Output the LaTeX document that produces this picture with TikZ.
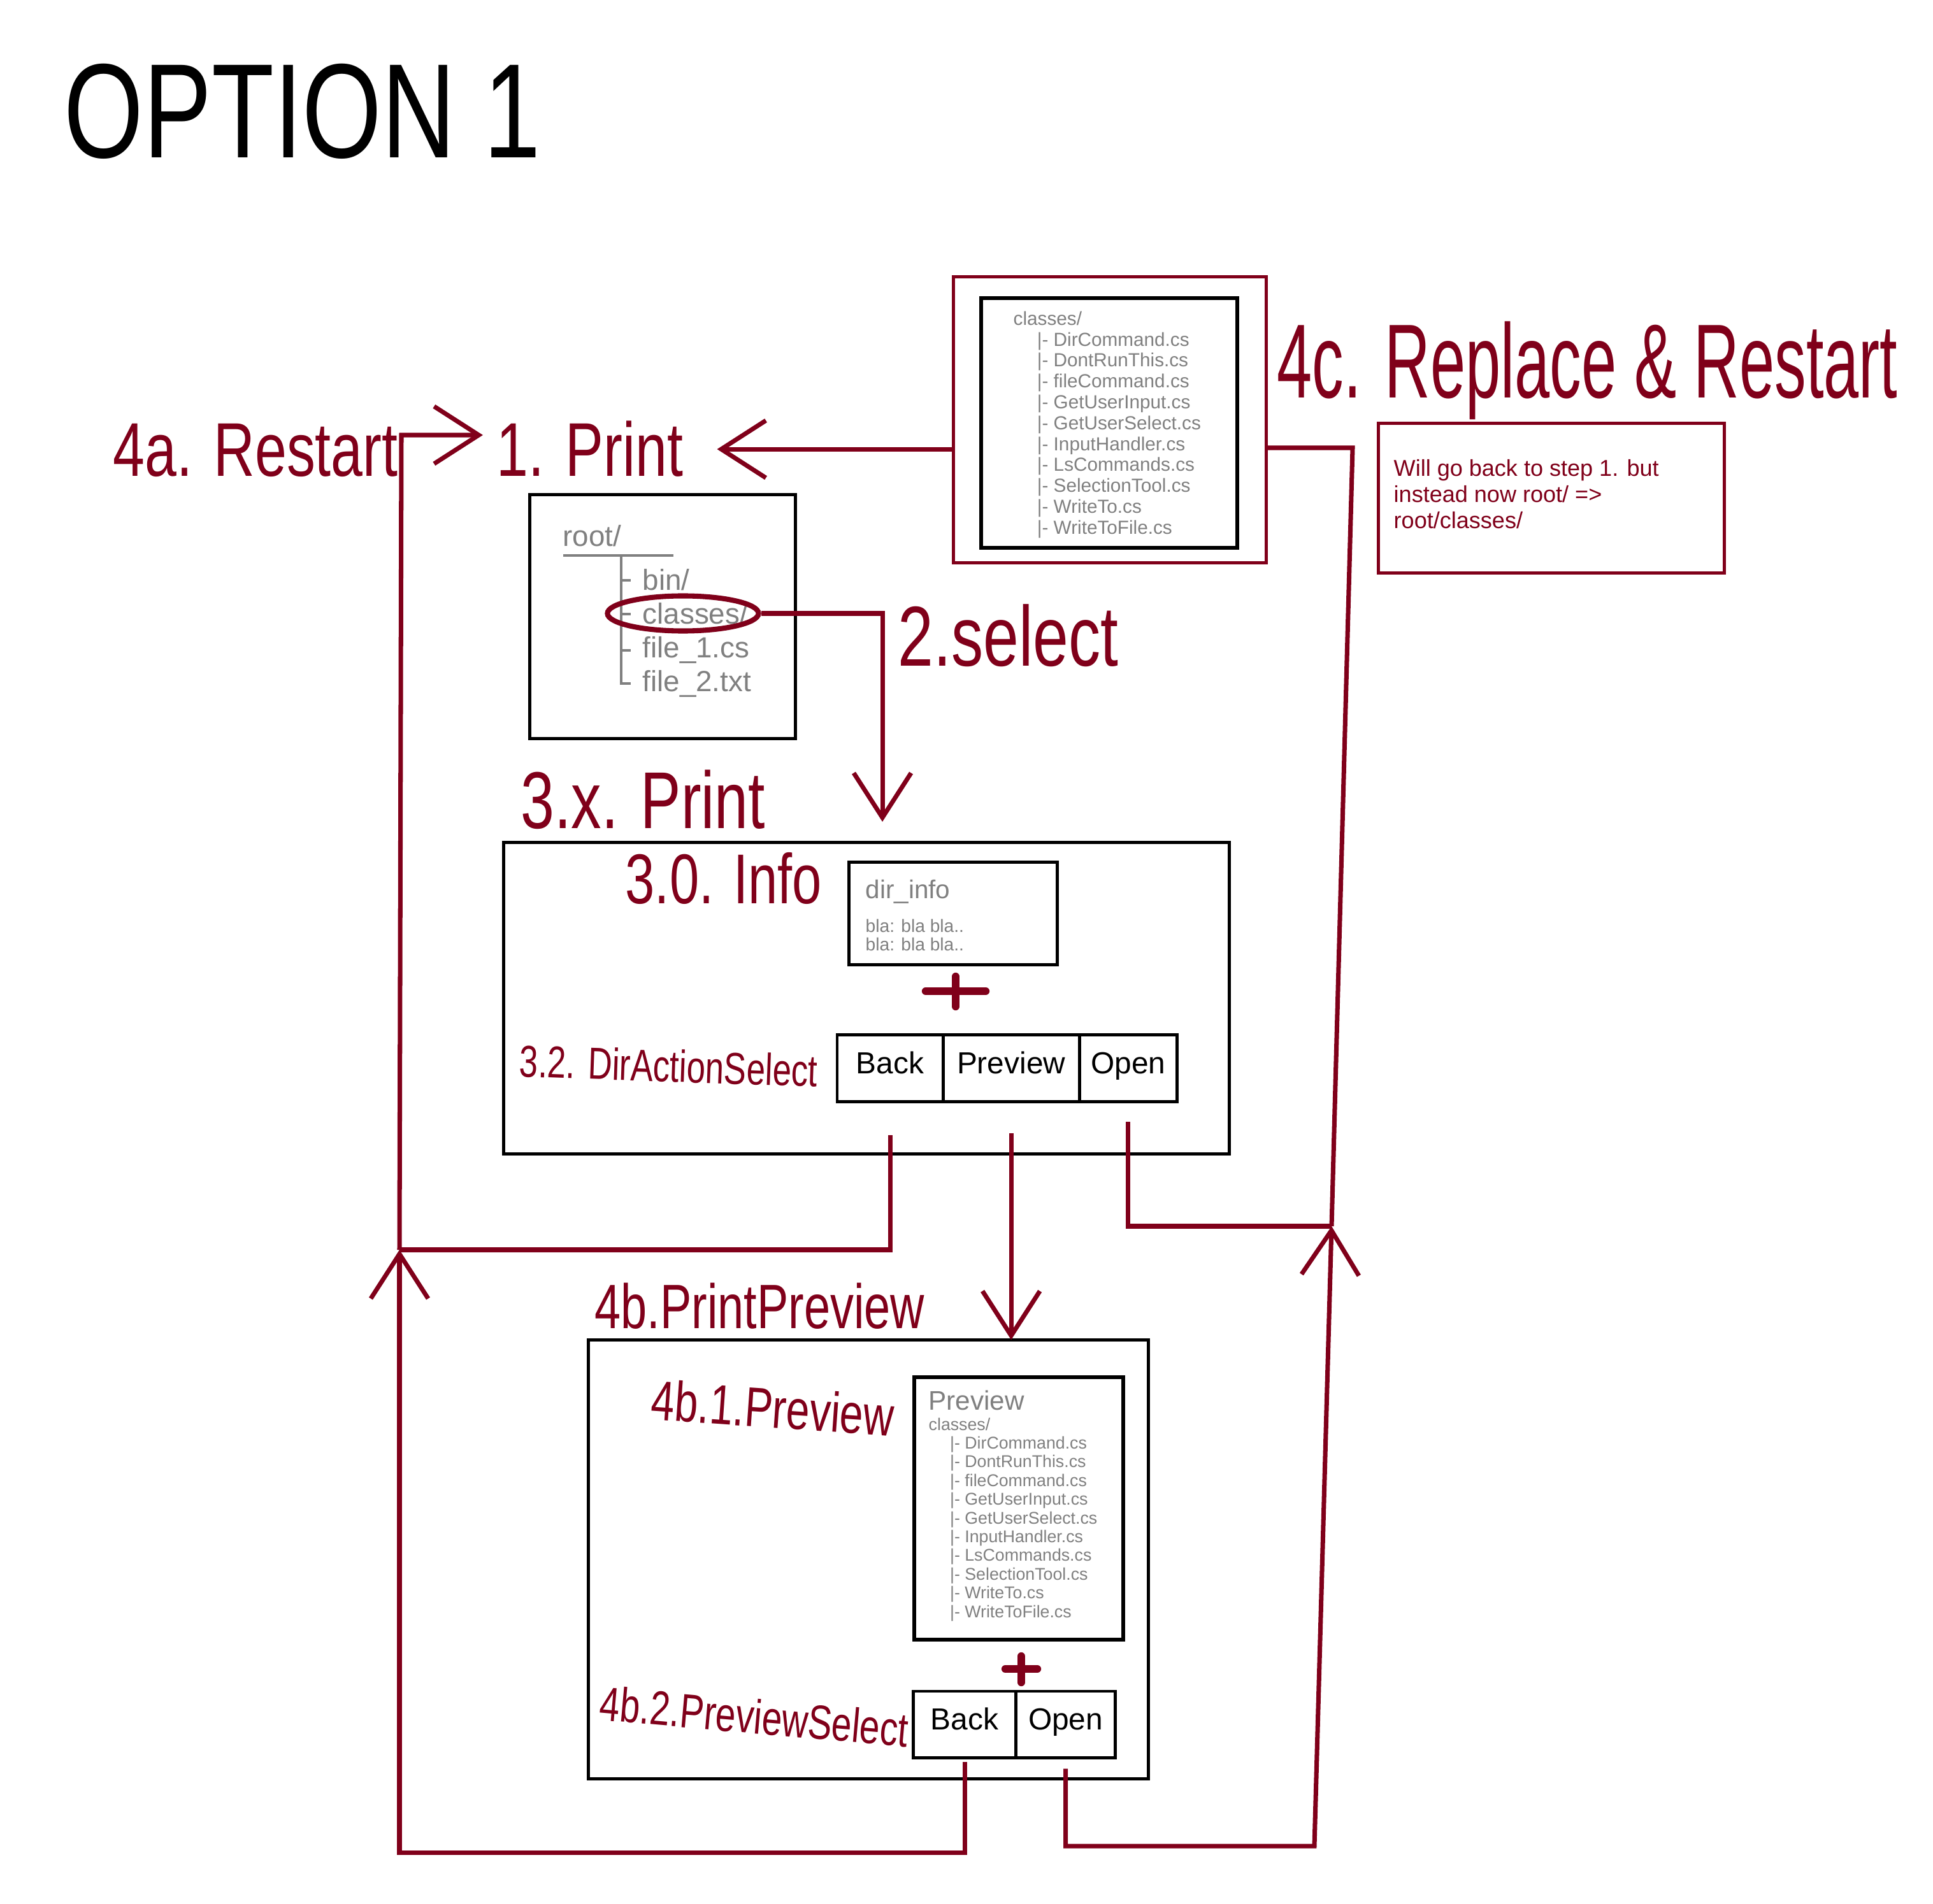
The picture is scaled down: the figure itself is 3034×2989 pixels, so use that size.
\documentclass[tikz,border=0pt]{standalone}
\usepackage{fontspec}
\setmainfont{Liberation Sans}
\newfontfamily\handfont[FakeStretch=0.75]{Liberation Sans}
\newfontfamily\narrowhand[FakeStretch=0.6]{Liberation Sans}
\newfontfamily\titlefont[FakeStretch=0.76]{Liberation Sans}
\usepackage{tikz}
\usetikzlibrary{arrows.meta, positioning, shapes.geometric}
\usepackage{xcolor}
\definecolor{wine}{RGB}{128,0,26}
\definecolor{treegray}{RGB}{128,128,128}
\newcommand\fileitem{\hspace*{1.25em}|- }

\begin{document}
\begin{tikzpicture}[
x=0.01cm, y=-0.01cm,
box/.style={draw, rectangle, line width=1.4pt, inner sep=0pt, outer sep=0pt},
redbox/.style={box, draw=wine},
btn/.style={box, minimum height=1.05cm, text height=0.75em, text depth=0.25em, font=\fontsize{13.6pt}{15pt}\selectfont},
plain/.style={anchor=base west, inner sep=0pt},
listtext/.style={text=treegray, align=left, inner sep=0pt, anchor=north west},
hand/.style={text=wine, font=\handfont\fontsize{#1}{#1}\selectfont, inner sep=0pt, anchor=base west},
link/.style={draw=wine, line width=2pt},
arrow/.style={link, -{Straight Barb[length=7mm, width=9mm]}}
]
\path[use as bounding box, fill=white] (0,0) rectangle (3034,2989);

\node[plain, font=\titlefont\fontsize{60pt}{60pt}\selectfont] (title) at (100,248) {OPTION 1};

% root tree
\node[box, minimum width=4.16cm, minimum height=3.83cm] (rootbox) at (1040,968) {};
\node[plain, text=treegray, font=\fontsize{13pt}{15pt}\selectfont] (rootname) at (883,858) {root/};
\node[plain, text=treegray, font=\fontsize{13pt}{15pt}\selectfont] (itembin) at (1008,927) {bin/};
\node[plain, text=treegray, font=\fontsize{13pt}{15pt}\selectfont] (itemclasses) at (1008,980) {classes/};
\node[plain, text=treegray, font=\fontsize{13pt}{15pt}\selectfont] (itemfileone) at (1008,1033) {file\_1.cs};
\node[plain, text=treegray, font=\fontsize{13pt}{15pt}\selectfont] (itemfiletwo) at (1008,1085) {file\_2.txt};
\coordinate (treetop) at (975,872);
\draw[treegray, line width=1.2pt] (884,872) -- (1057,872);
\draw[treegray, line width=1.2pt] (treetop) -- (treetop |- itemfiletwo.west) -- ++(15,0);
\foreach \n in {itembin, itemclasses, itemfileone}
  \draw[treegray, line width=1.2pt] (treetop |- \n.west) -- ++(15,0);
\node[ellipse, draw=wine, line width=2.3pt, minimum width=2.37cm, minimum height=0.55cm, inner sep=0pt] (selring) at (1072,963) {};

% classes listing
\node[redbox, minimum width=4.90cm, minimum height=4.48cm] (classesbox) at (1742,659) {};
\node[box, line width=1.7pt, minimum width=4.02cm, minimum height=3.92cm] (classeslist) at (1741,664) {};
\node[listtext, font=\fontsize{8.45pt}{9.33pt}\selectfont] (classestxt) at (1590,488) {classes/\\
\fileitem DirCommand.cs\\ \fileitem DontRunThis.cs\\ \fileitem fileCommand.cs\\
\fileitem GetUserInput.cs\\ \fileitem GetUserSelect.cs\\ \fileitem InputHandler.cs\\
\fileitem LsCommands.cs\\ \fileitem SelectionTool.cs\\ \fileitem WriteTo.cs\\ \fileitem WriteToFile.cs};

\node[redbox, minimum width=5.43cm, minimum height=2.34cm] (notebox) at (2435,782) {};
\node[listtext, text=wine, font=\fontsize{10.25pt}{11.6pt}\selectfont] (notetxt) at (2187,721) {Will go back to step 1. but\\instead now root/ =>\\root/classes/};

% step 3
\node[box, minimum width=11.38cm, minimum height=4.89cm] (printbox) at (1360,1567) {};
\node[box, minimum width=3.27cm, minimum height=1.60cm] (infobox) at (1496,1434) {};
\node[plain, text=treegray, font=\fontsize{11.5pt}{13pt}\selectfont] (infotitle) at (1358,1410) {dir\_info};
\node[listtext, font=\fontsize{8pt}{8.5pt}\selectfont] (infotxt) at (1358,1442) {bla: bla bla..\\bla: bla bla..};
\draw[wine, line width=3.5pt, line cap=round] (1453,1556) -- (1547,1556) (1500,1533) -- (1500,1580);
\node[btn, minimum width=1.66cm] (btnback) at (1397,1677) {Back};
\node[btn, minimum width=2.14cm, right=0pt of btnback] (btnpreview) {Preview};
\node[btn, minimum width=1.53cm, right=0pt of btnpreview] (btnopen) {Open};

% step 4b
\node[box, minimum width=8.79cm, minimum height=6.89cm] (previewbox) at (1363,2448) {};
\node[box, line width=1.7pt, minimum width=3.27cm, minimum height=4.11cm] (listbox) at (1599,2368) {};
\node[plain, text=treegray, font=\fontsize{12pt}{14pt}\selectfont] (listtitle) at (1457,2213) {Preview};
\node[listtext, font=\fontsize{7.6pt}{8.36pt}\selectfont] (listtxt) at (1457,2225) {classes/\\
\fileitem DirCommand.cs\\ \fileitem DontRunThis.cs\\ \fileitem fileCommand.cs\\
\fileitem GetUserInput.cs\\ \fileitem GetUserSelect.cs\\ \fileitem InputHandler.cs\\
\fileitem LsCommands.cs\\ \fileitem SelectionTool.cs\\ \fileitem WriteTo.cs\\ \fileitem WriteToFile.cs};
\draw[wine, line width=3.5pt, line cap=round] (1578,2620) -- (1628,2620) (1603,2600) -- (1603,2641);
\node[btn, minimum width=1.61cm, minimum height=1.04cm] (pbtnback) at (1514,2707) {Back};
\node[btn, minimum width=1.56cm, minimum height=1.04cm, right=0pt of pbtnback] (pbtnopen) {Open};

% labels
\node[hand=34pt] (lblrestart) at (177,748) {4a. Restart};
\node[hand=34pt] (lblprint) at (779,748) {1. Print};
\node[hand=38pt] (lblselect) at (1409,1045) {2.select};
\node[hand=36pt] (lblxprint) at (817,1300) {3.x. Print};
\node[hand=31.5pt] (lblinfo) at (981,1418) {3.0. Info};
\node[hand=20pt, rotate=-2] (lblaction) at (814,1690) {3.2. DirActionSelect};
\node[hand=28pt] (lblpp) at (933,2085) {4b.PrintPreview};
\node[hand=25pt, rotate=-4] (lblpv) at (1020,2228) {4b.1.Preview};
\node[hand=21.5pt, rotate=-5] (lblps) at (939,2700) {4b.2.PreviewSelect};
\node[hand=47pt, font=\narrowhand\fontsize{47pt}{47pt}\selectfont] (lblreplace) at (2004,625) {4c. Replace \& Restart};

% connectors
\coordinate (lcorner) at (630,683);
\coordinate (ljoin) at (627,1962);
\coordinate (lbottom) at (627,2908);
\coordinate (rtop) at (2123,703);
\coordinate (rjoin) at (2090,1925);
\coordinate (rbottom) at (2063,2898);
\coordinate (selend) at (1385,1290);

\draw[arrow, shorten >=15pt] (classesbox.west |- lblprint.east) -- (lblprint.east);
\draw[arrow] (selring.east) -| (selend);
\draw[arrow, shorten <=14pt] (btnpreview.south) -- (btnpreview.south |- previewbox.north);
\draw[link, shorten <=15pt] (btnback.south) |- (ljoin);
\draw[arrow, shorten <=2pt] (pbtnback.south) |- (lbottom) -- (ljoin);
\draw[arrow, shorten >=6pt] (ljoin) -- (lcorner) -- (lcorner -| lblprint.west);
\draw[link, shorten <=9pt] (btnopen.south) |- (rjoin);
\draw[arrow, shorten <=5pt] (pbtnopen.south) |- (rbottom) -- (rjoin);
\draw[link] (rjoin) -- (rtop) -- (rtop -| classesbox.east);

\end{tikzpicture}
\end{document}
